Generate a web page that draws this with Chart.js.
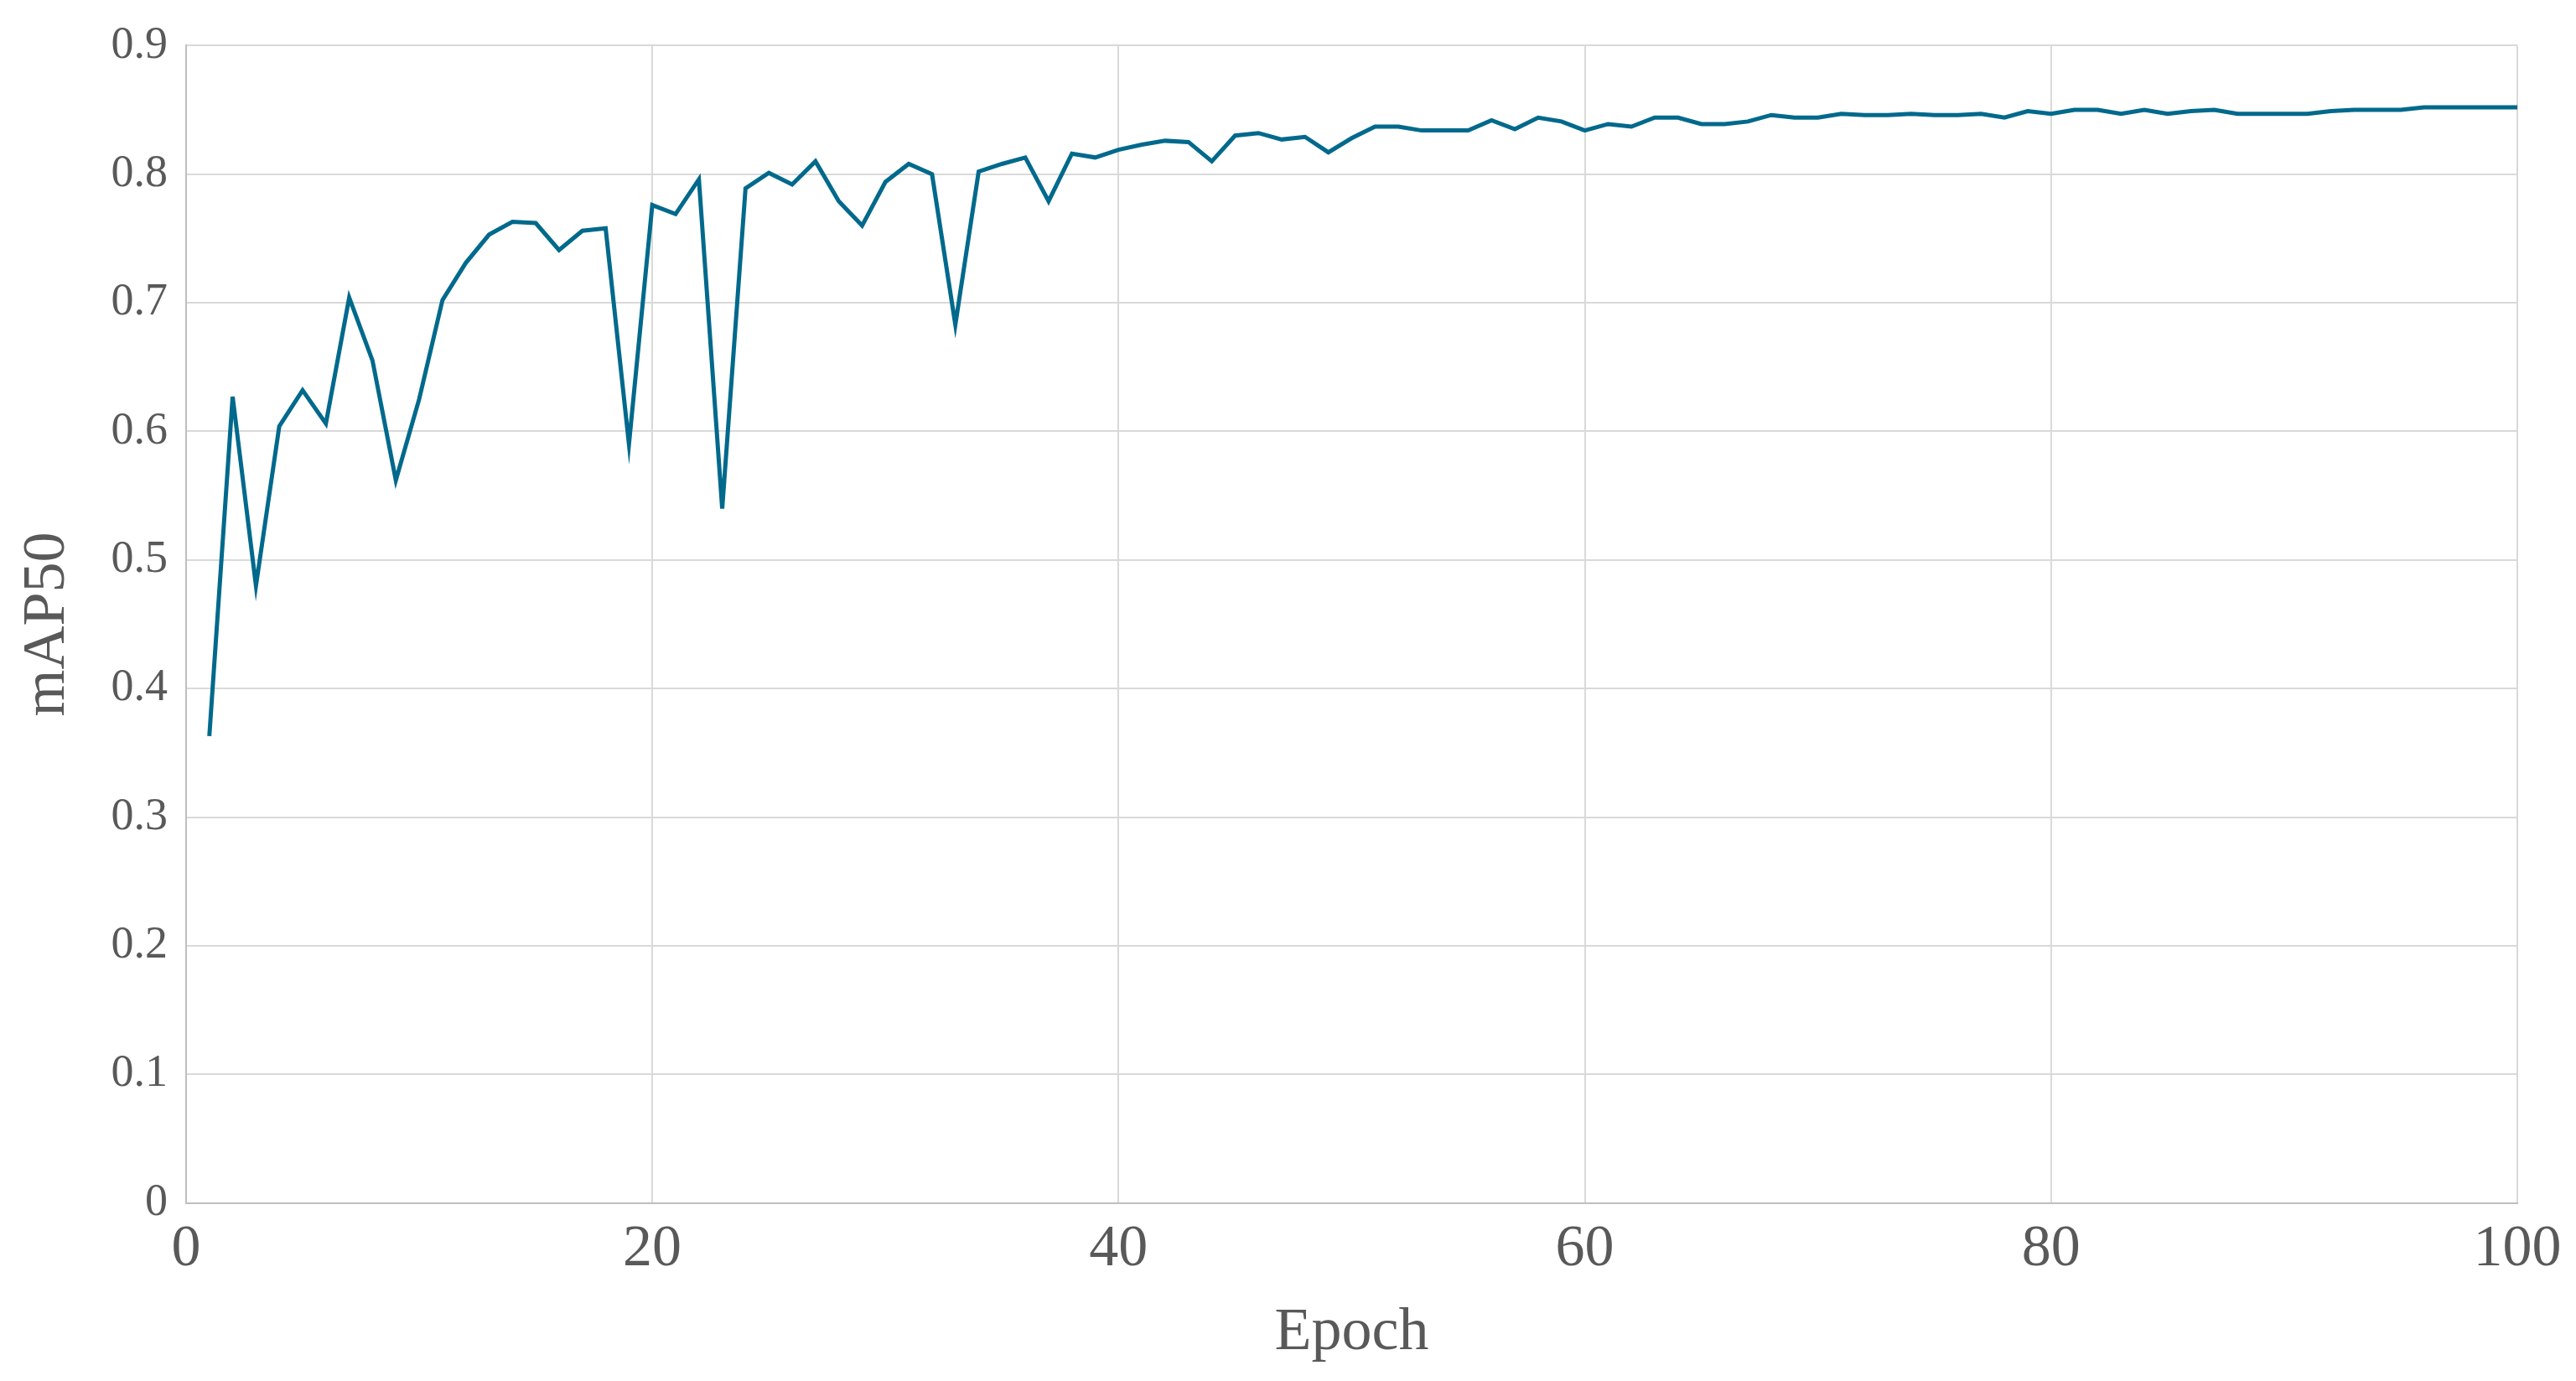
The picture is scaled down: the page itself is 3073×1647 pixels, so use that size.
<!DOCTYPE html>
<html>
<head>
<meta charset="utf-8">
<script src="https://cdn.jsdelivr.net/npm/chart.js"></script>
<style>
  html, body { margin: 0; padding: 0; background: #fff; }
  #wrap { width: 3073px; height: 1647px; }
</style>
</head>
<body>
<div id="wrap"><canvas id="chart" width="3073" height="1647"></canvas></div>
<script>
// mAP50 per epoch
const epochs = Array.from({ length: 100 }, (_, i) => i + 1);
const map50 = [
  0.363, 0.627, 0.480, 0.604, 0.632, 0.606, 0.704, 0.655, 0.562, 0.625,
  0.702, 0.731, 0.753, 0.763, 0.762, 0.741, 0.756, 0.758, 0.590, 0.776,
  0.769, 0.796, 0.540, 0.789, 0.801, 0.792, 0.810, 0.779, 0.760, 0.794,
  0.808, 0.800, 0.683, 0.802, 0.808, 0.813, 0.779, 0.816, 0.813, 0.819,
  0.823, 0.826, 0.825, 0.810, 0.830, 0.832, 0.827, 0.829, 0.817, 0.828,
  0.837, 0.837, 0.834, 0.834, 0.834, 0.842, 0.835, 0.844, 0.841, 0.834,
  0.839, 0.837, 0.844, 0.844, 0.839, 0.839, 0.841, 0.846, 0.844, 0.844,
  0.847, 0.846, 0.846, 0.847, 0.846, 0.846, 0.847, 0.844, 0.849, 0.847,
  0.850, 0.850, 0.847, 0.850, 0.847, 0.849, 0.850, 0.847, 0.847, 0.847,
  0.847, 0.849, 0.850, 0.850, 0.850, 0.852, 0.852, 0.852, 0.852, 0.852
];

const serif = '"Liberation Serif", "DejaVu Serif", serif';

new Chart(document.getElementById('chart').getContext('2d'), {
  type: 'line',
  data: {
    datasets: [{
      data: epochs.map((e, i) => ({ x: e, y: map50[i] })),
      borderColor: '#00698C',
      borderWidth: 5,
      pointRadius: 0,
      tension: 0
    }]
  },
  options: {
    responsive: false,
    animation: false,
    devicePixelRatio: 1,
    layout: { padding: { top: 30, right: 70, left: 10, bottom: 10 } },
    plugins: { legend: { display: false }, tooltip: { enabled: false } },
    scales: {
      x: {
        type: 'linear',
        min: 0,
        max: 100,
        ticks: { stepSize: 20, color: '#595959', font: { family: serif, size: 70 }, padding: 14 },
        grid: { color: '#d9d9d9', lineWidth: 2, drawTicks: false },
        border: { color: '#bfbfbf', width: 2 },
        title: { display: true, text: 'Epoch', color: '#595959', font: { family: serif, size: 72 }, padding: { top: 0 } }
      },
      y: {
        min: 0,
        max: 0.9,
        ticks: { stepSize: 0.1, color: '#595959', font: { family: serif, size: 54 }, padding: 22 },
        grid: { color: '#d9d9d9', lineWidth: 2, drawTicks: false },
        border: { color: '#bfbfbf', width: 2 },
        title: { display: true, text: 'mAP50', color: '#595959', font: { family: serif, size: 72 }, padding: { bottom: 10 } }
      }
    }
  }
});
</script>
</body>
</html>
